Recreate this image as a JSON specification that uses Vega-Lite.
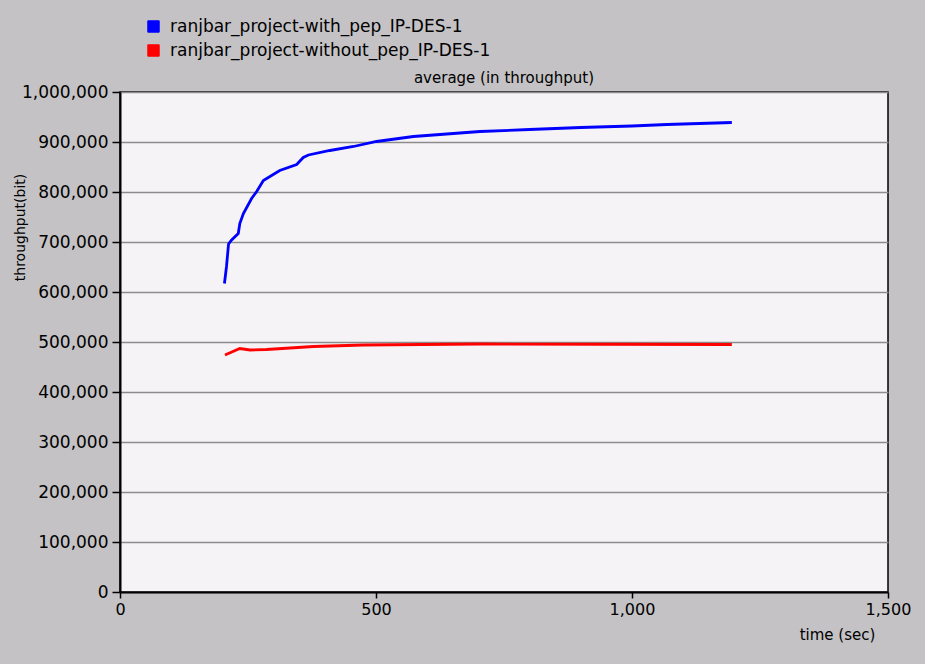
{
  "$schema": "https://vega.github.io/schema/vega-lite/v6.json",
  "width": 768,
  "height": 500,
  "autosize": {"type": "none"},
  "padding": {"left": 120, "top": 92, "right": 37, "bottom": 72},
  "background": "#c4c2c4",
  "title": {"text": "average (in throughput)", "fontSize": 15, "font": "DejaVu Sans", "fontWeight": "normal", "color": "#000000", "offset": 7, "anchor": "middle", "dy": 75},
  "config": {"view": {"fill": "#f6f3f6", "stroke": "#000000", "strokeWidth": 1.5}},
  "data": {"values": [
    {"series": "ranjbar_project-with_pep_IP-DES-1", "time": 204, "value": 617000},
    {"series": "ranjbar_project-with_pep_IP-DES-1", "time": 208, "value": 651000},
    {"series": "ranjbar_project-with_pep_IP-DES-1", "time": 212, "value": 696000},
    {"series": "ranjbar_project-with_pep_IP-DES-1", "time": 218, "value": 704000},
    {"series": "ranjbar_project-with_pep_IP-DES-1", "time": 231, "value": 717000},
    {"series": "ranjbar_project-with_pep_IP-DES-1", "time": 234, "value": 737000},
    {"series": "ranjbar_project-with_pep_IP-DES-1", "time": 241, "value": 757000},
    {"series": "ranjbar_project-with_pep_IP-DES-1", "time": 257, "value": 787000},
    {"series": "ranjbar_project-with_pep_IP-DES-1", "time": 267, "value": 801000},
    {"series": "ranjbar_project-with_pep_IP-DES-1", "time": 280, "value": 823000},
    {"series": "ranjbar_project-with_pep_IP-DES-1", "time": 312, "value": 843000},
    {"series": "ranjbar_project-with_pep_IP-DES-1", "time": 345, "value": 855000},
    {"series": "ranjbar_project-with_pep_IP-DES-1", "time": 358, "value": 869000},
    {"series": "ranjbar_project-with_pep_IP-DES-1", "time": 368, "value": 874000},
    {"series": "ranjbar_project-with_pep_IP-DES-1", "time": 410, "value": 883000},
    {"series": "ranjbar_project-with_pep_IP-DES-1", "time": 456, "value": 891000},
    {"series": "ranjbar_project-with_pep_IP-DES-1", "time": 501, "value": 901000},
    {"series": "ranjbar_project-with_pep_IP-DES-1", "time": 573, "value": 911000},
    {"series": "ranjbar_project-with_pep_IP-DES-1", "time": 638, "value": 916000},
    {"series": "ranjbar_project-with_pep_IP-DES-1", "time": 703, "value": 921000},
    {"series": "ranjbar_project-with_pep_IP-DES-1", "time": 800, "value": 925000},
    {"series": "ranjbar_project-with_pep_IP-DES-1", "time": 900, "value": 929000},
    {"series": "ranjbar_project-with_pep_IP-DES-1", "time": 1000, "value": 932000},
    {"series": "ranjbar_project-with_pep_IP-DES-1", "time": 1068, "value": 935000},
    {"series": "ranjbar_project-with_pep_IP-DES-1", "time": 1195, "value": 939000},
    {"series": "ranjbar_project-without_pep_IP-DES-1", "time": 205, "value": 474000},
    {"series": "ranjbar_project-without_pep_IP-DES-1", "time": 234, "value": 487000},
    {"series": "ranjbar_project-without_pep_IP-DES-1", "time": 254, "value": 484000},
    {"series": "ranjbar_project-without_pep_IP-DES-1", "time": 286, "value": 485000},
    {"series": "ranjbar_project-without_pep_IP-DES-1", "time": 378, "value": 491000},
    {"series": "ranjbar_project-without_pep_IP-DES-1", "time": 475, "value": 494000},
    {"series": "ranjbar_project-without_pep_IP-DES-1", "time": 703, "value": 496000},
    {"series": "ranjbar_project-without_pep_IP-DES-1", "time": 937, "value": 495500},
    {"series": "ranjbar_project-without_pep_IP-DES-1", "time": 1195, "value": 495000}
  ]},
  "mark": {"type": "line", "strokeWidth": 2.8},
  "encoding": {
    "x": {
      "field": "time", "type": "quantitative",
      "scale": {"domain": [0, 1500], "nice": false},
      "axis": {
        "values": [0, 500, 1000, 1500], "format": ",d", "grid": false,
        "domainColor": "#000000", "domainWidth": 2,
        "tickColor": "#000000", "tickSize": 6, "tickWidth": 1.5,
        "labelFont": "DejaVu Sans", "labelFontSize": 16, "labelColor": "#000000", "labelPadding": 3,
        "labelFlush": false, "labelOverlap": false,
        "title": "time (sec)", "titleFont": "DejaVu Sans", "titleFontSize": 15, "titleFontWeight": "normal", "titleColor": "#000000",
        "titleX": 717, "titleY": 42, "titleAlign": "center", "titleBaseline": "middle"
      }
    },
    "y": {
      "field": "value", "type": "quantitative",
      "scale": {"domain": [0, 1000000], "nice": false},
      "axis": {
        "values": [0, 100000, 200000, 300000, 400000, 500000, 600000, 700000, 800000, 900000, 1000000],
        "format": ",d", "grid": true, "gridColor": "#8c8c8c", "gridWidth": 1.5,
        "domainColor": "#000000", "domainWidth": 2,
        "tickColor": "#000000", "tickSize": 8, "tickWidth": 1.5,
        "labelFont": "DejaVu Sans", "labelFontSize": 17, "labelColor": "#000000", "labelPadding": 4,
        "title": "throughput(bit)", "titleFont": "DejaVu Sans", "titleFontSize": 14, "titleFontWeight": "normal", "titleColor": "#000000",
        "titleAngle": -90, "titleX": -100, "titleY": 135, "titleAlign": "center", "titleBaseline": "middle"
      }
    },
    "color": {
      "field": "series", "type": "nominal",
      "scale": {"domain": ["ranjbar_project-with_pep_IP-DES-1", "ranjbar_project-without_pep_IP-DES-1"], "range": ["#0000ff", "#ff0000"]},
      "legend": {
        "orient": "none", "legendX": 25, "legendY": -74, "direction": "vertical", "title": null,
        "symbolType": "square", "symbolSize": 130,
        "labelFont": "DejaVu Sans", "labelFontSize": 17, "labelColor": "#000000", "labelOffset": 8, "labelLimit": 600,
        "rowPadding": 6,
        "encode": {"symbols": {"update": {
          "fill": {"scale": "color", "field": "value"},
          "stroke": {"value": "#000000"},
          "strokeWidth": {"value": 1},
          "opacity": {"value": 1}
        }}}
      }
    }
  }
}
